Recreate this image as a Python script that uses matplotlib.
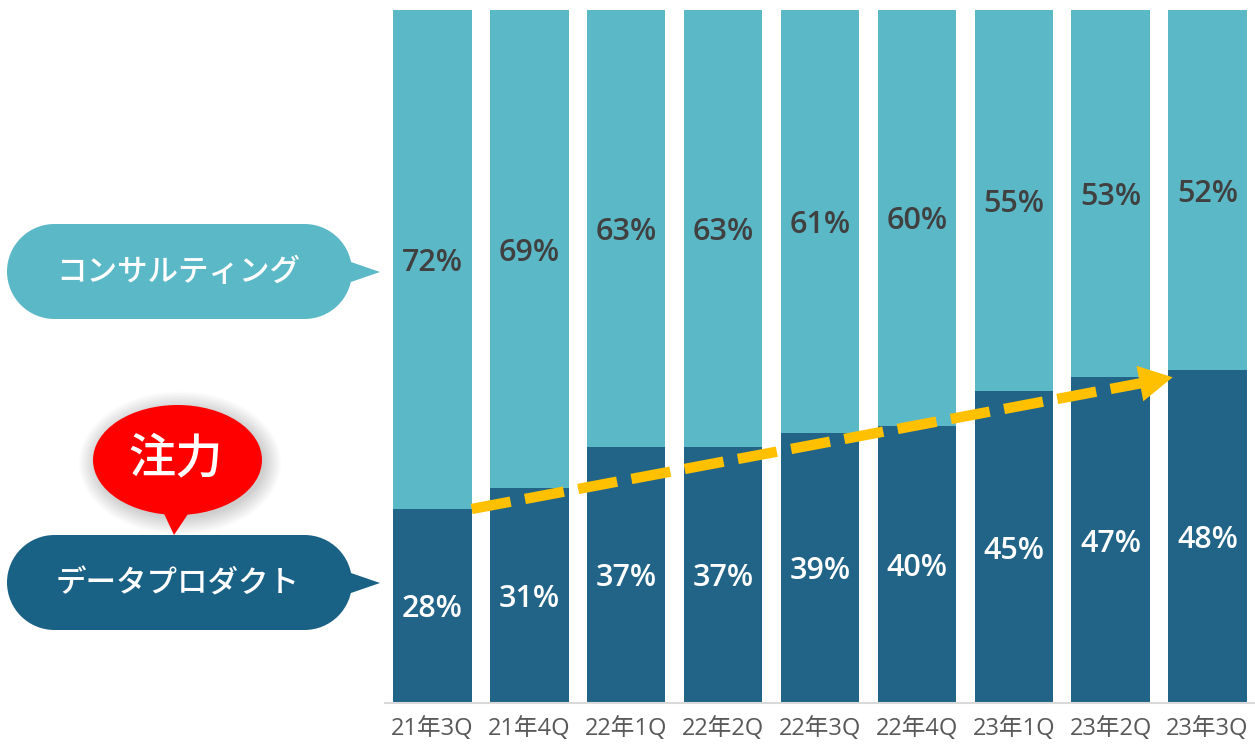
import numpy as np
import matplotlib
matplotlib.use("Agg")
import matplotlib.pyplot as plt
from matplotlib.patches import Rectangle, Circle, Polygon, Ellipse

plt.rcParams['font.family'] = ['Noto Sans CJK JP', 'DejaVu Sans']
num_font = ['Open Sans', 'Noto Sans CJK JP', 'DejaVu Sans']

quarters = ["21年3Q", "21年4Q", "22年1Q", "22年2Q", "22年3Q", "22年4Q", "23年1Q", "23年2Q", "23年3Q"]
data_product = [28, 31, 37, 37, 39, 40, 45, 47, 48]
consulting = [72, 69, 63, 63, 61, 60, 55, 53, 52]

light = "#5BB8C7"
dark = "#216487"
yellow = "#FFC000"

W, H = 1255, 744
fig = plt.figure(figsize=(W / 100, H / 100), dpi=100)

# bar chart area (pixel box 385..1255 x 10..703)
ax = fig.add_axes([385 / W, 41 / H, 870 / W, 693 / H])
x = np.arange(len(quarters))
bw = 0.81
ax.bar(x, data_product, bw, color=dark)
ax.bar(x, consulting, bw, bottom=data_product, color=light)

for i in range(len(quarters)):
    ax.text(x[i], data_product[i] / 2 - 0.5, f"{data_product[i]}%", ha="center", va="center",
            color="white", fontsize=22, fontweight="semibold", family=num_font)
    ax.text(x[i], data_product[i] + consulting[i] / 2 - 0.5, f"{consulting[i]}%", ha="center", va="center",
            color="#404040", fontsize=22, fontweight="semibold", family=num_font)

ax.set_xlim(-0.49, 8.49)
ax.set_ylim(0, 100)
ax.set_xticks(x, quarters)
for lab in ax.get_xticklabels():
    lab.set_fontfamily(num_font)
    lab.set_fontsize(17)
    lab.set_color("#595959")
ax.tick_params(length=0, pad=10)
ax.set_yticks([])
for s in ["top", "right", "left"]:
    ax.spines[s].set_visible(False)
ax.spines["bottom"].set_color("#D9D9D9")
ax.spines["bottom"].set_linewidth(1.5)

# dashed trend arrow from first to last bar
x0, y0 = 0 + bw / 2, data_product[0]
x1, y1 = 8 - 0.36, data_product[-1] - 1
frac = 0.955
xm, ym = x0 + (x1 - x0) * frac, y0 + (y1 - y0) * frac
ax.plot([x0, xm], [y0, ym], color=yellow, lw=7.5, dashes=(3.8, 1.4), solid_capstyle="butt",
        dash_capstyle="butt", zorder=5)
ax.annotate("", xy=(x1, y1), xytext=(xm - 0.05, ym - 0.15),
            arrowprops=dict(arrowstyle="-|>,head_length=24,head_width=13", mutation_scale=1,
                            color=yellow, lw=0, shrinkA=0, shrinkB=0), zorder=6)

# callouts on the left, in pixel coordinates
ov = fig.add_axes([0, 0, 1, 1])
ov.set_xlim(0, W)
ov.set_ylim(H, 0)
ov.axis("off")
ov.patch.set_alpha(0)


def pill(y_top, color, text, ty):
    r = 47.5
    yc = y_top + r
    ov.add_patch(Rectangle((7 + r, y_top), 345 - 2 * r, 2 * r, fc=color, ec="none"))
    ov.add_patch(Circle((7 + r, yc), r, fc=color, ec="none"))
    ov.add_patch(Circle((352 - r, yc), r, fc=color, ec="none"))
    ov.add_patch(Polygon([(335, yc - 15), (380, yc + 0.5), (335, yc + 16)], closed=True, fc=color, ec="none"))
    ov.text(178, ty, text, ha="center", va="center", color="white", fontsize=22, fontweight="medium")


pill(224, light, "コンサルティング", 272)
pill(535, "#1A6186", "データプロダクト", 584)

# red "注力" bubble with soft shadow
for k in range(12):
    ov.add_patch(Ellipse((180, 463), 169 + 3 * k, 110 + 3 * k, fc="#000000", ec="none", alpha=0.016, zorder=1))
ov.add_patch(Polygon([(160, 505), (194, 505), (174, 535)], closed=True, fc="#FF0000", ec="none", zorder=2))
ov.add_patch(Ellipse((177.5, 460), 169, 110, fc="#FF0000", ec="none", zorder=2))
ov.text(176, 459, "注力", ha="center", va="center", color="white", fontsize=34, fontweight="medium", zorder=3)

fig.savefig("out.png", dpi=100)
